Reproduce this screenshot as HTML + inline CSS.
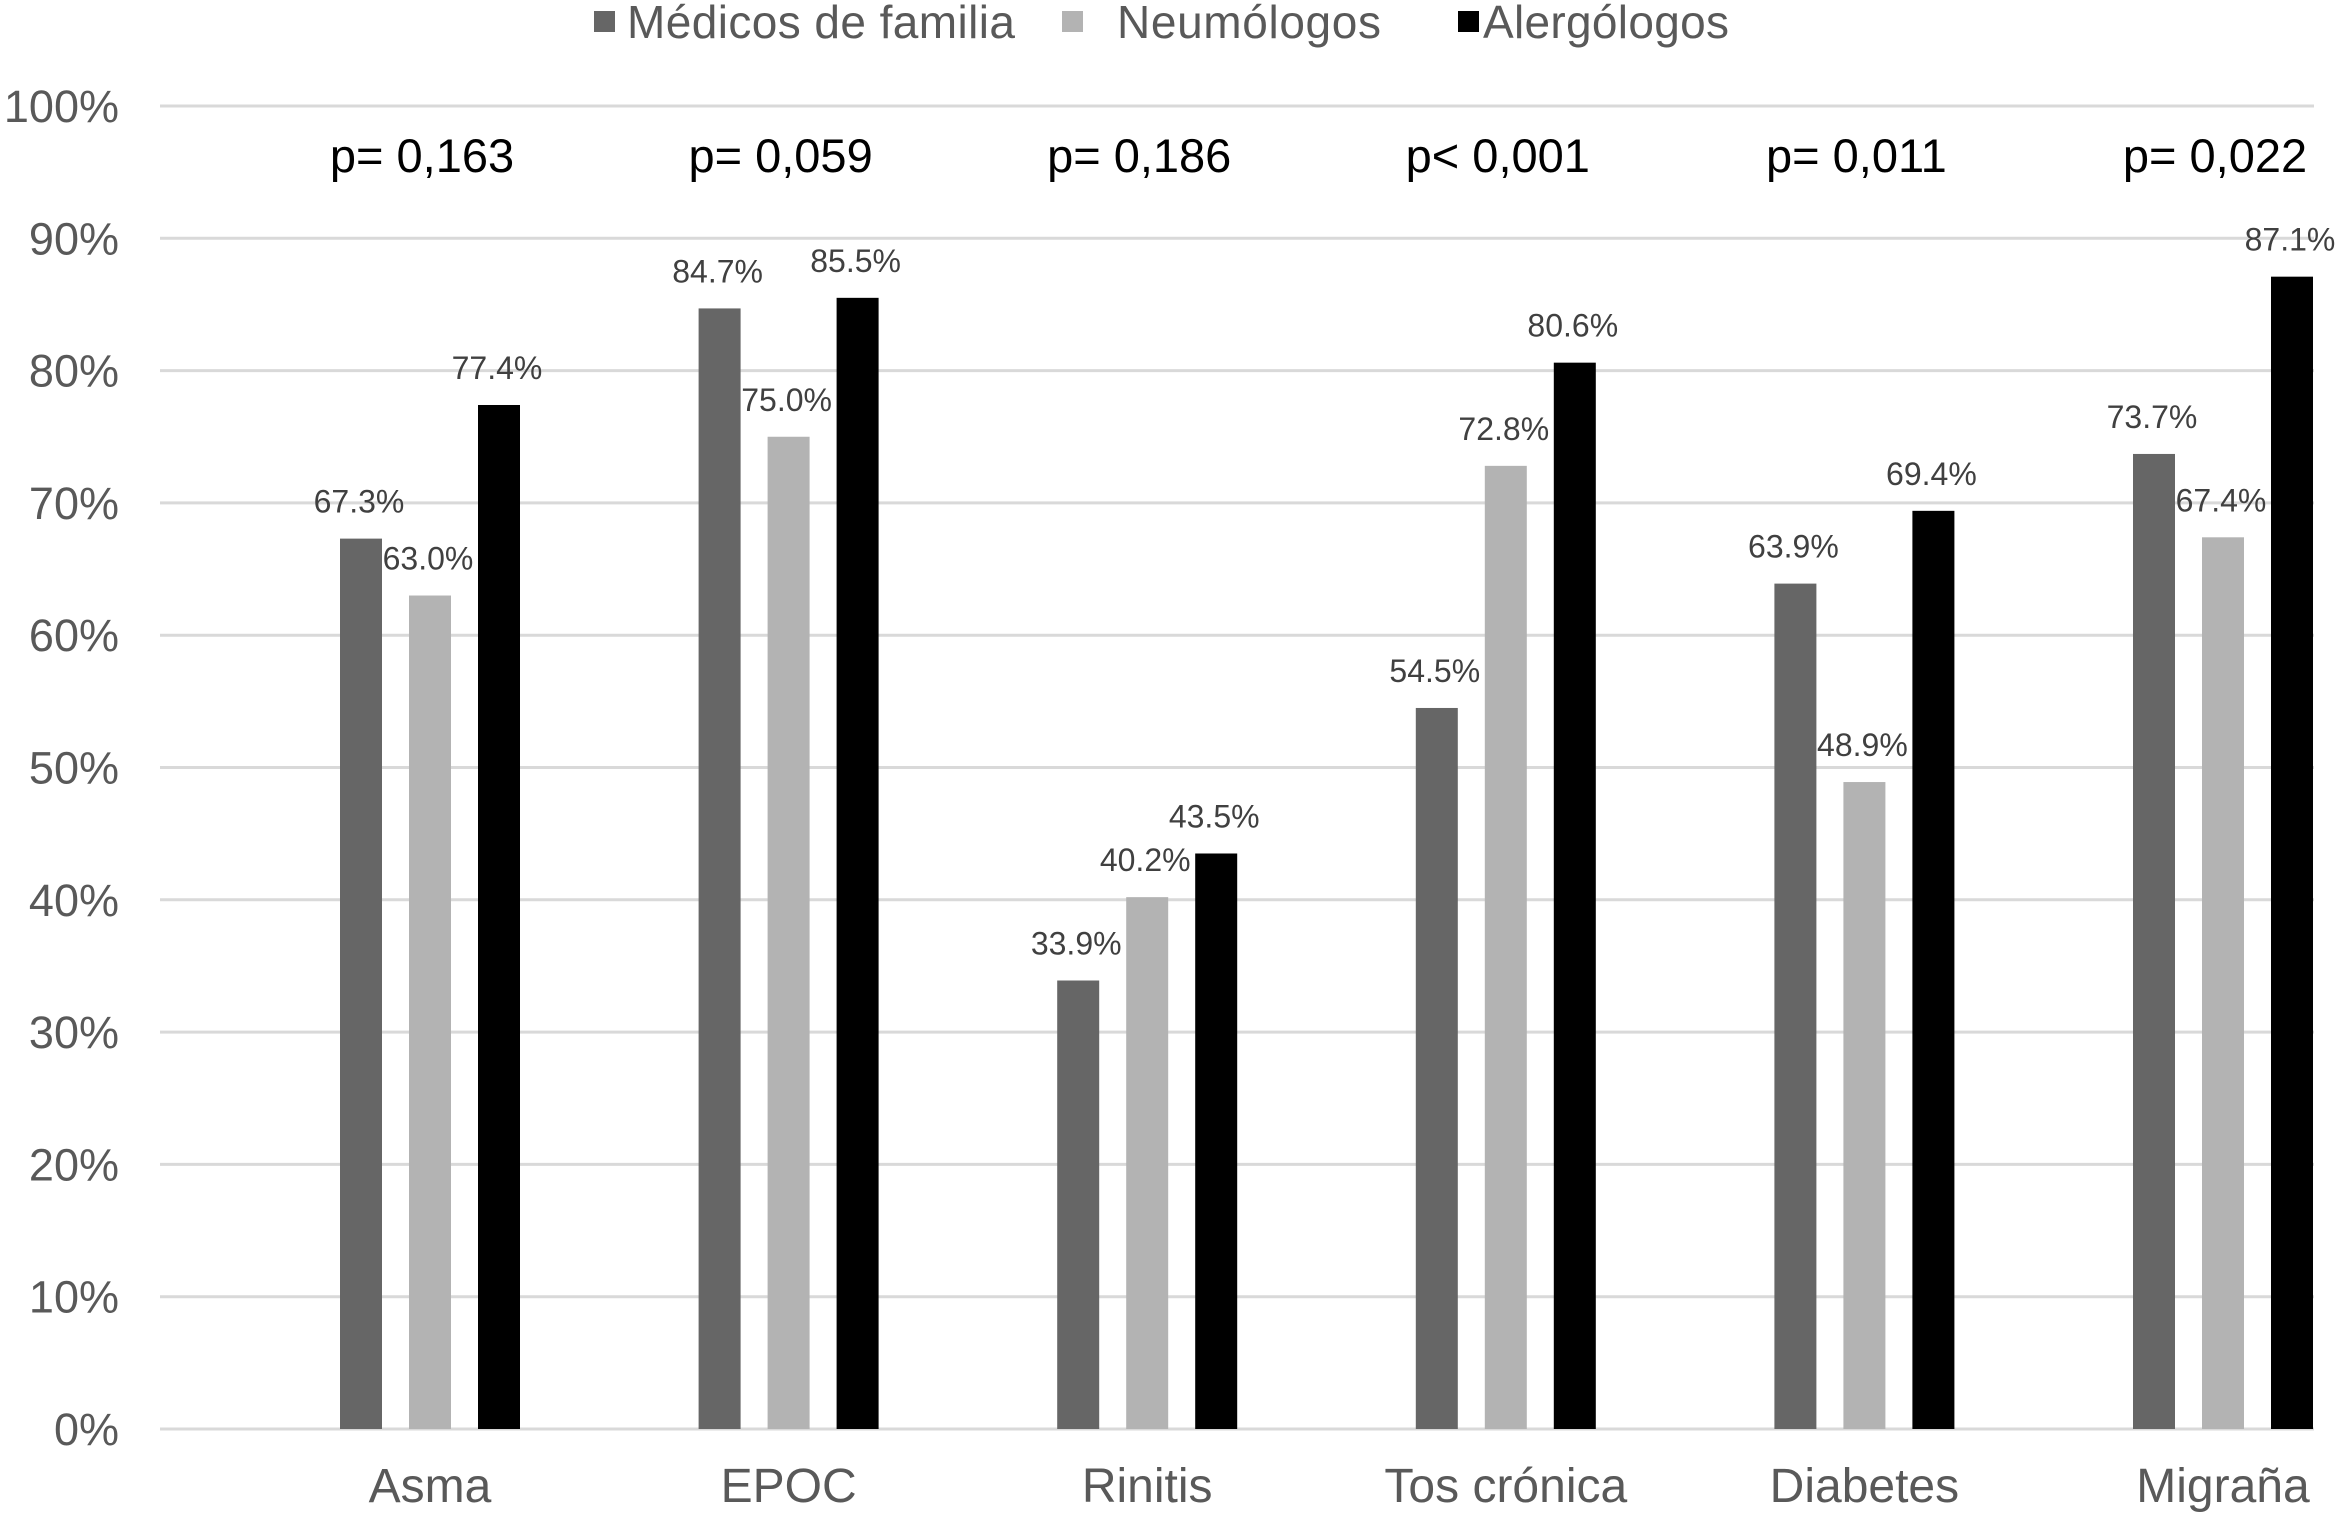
<!DOCTYPE html>
<html><head><meta charset="utf-8"><style>
html,body{margin:0;padding:0;background:#fff;}
svg{display:block;font-family:"Liberation Sans",Arial,sans-serif;}
</style></head><body>
<svg id="chart" width="2341" height="1515">
  <g id="grid"></g>
  <g id="bars"></g>
  <g id="labels"></g>
  <g>
    <rect x="594" y="11" width="21" height="21" fill="#666666"/>
    <text x="627" y="38" font-size="46" textLength="388" fill="#595959">Médicos de familia</text>
    <rect x="1062" y="11" width="21" height="21" fill="#b3b3b3"/>
    <text x="1117" y="38" font-size="46" textLength="264" fill="#595959">Neumólogos</text>
    <rect x="1458" y="11" width="21" height="21" fill="#000000"/>
    <text x="1483" y="38" font-size="46" textLength="246" fill="#595959">Alergólogos</text>
  </g>
</svg>
<script>
const categories = ["Asma","EPOC","Rinitis","Tos crónica","Diabetes","Migraña"];
const medicos = [67.3,84.7,33.9,54.5,63.9,73.7];
const neumologos = [63.0,75.0,40.2,72.8,48.9,67.4];
const alergologos = [77.4,85.5,43.5,80.6,69.4,87.1];
const pValues = ["p= 0,163","p= 0,059","p= 0,186","p< 0,001","p= 0,011","p= 0,022"];
const yTicks = [0,10,20,30,40,50,60,70,80,90,100];

const NS="http://www.w3.org/2000/svg";
const y0=1429, y100=106, xL=160, xR=2314;
function yScale(v){return y0-(y0-y100)*v/100;}
function xCenter(i){return 430+i*358.6;}
function mk(tag,attrs,parent){const e=document.createElementNS(NS,tag);for(const k in attrs)e.setAttribute(k,attrs[k]);parent.appendChild(e);return e;}
const grid=document.getElementById('grid'),bars=document.getElementById('bars'),labels=document.getElementById('labels');
yTicks.forEach(t=>{
  const y=yScale(t);
  const l=mk('line',{x1:xL,x2:xR,y1:y,y2:y,stroke:'#d9d9d9','stroke-width':3},grid);
  
  
  const tx=mk('text',{x:119,y:y+16,'font-size':45,fill:'#595959','text-anchor':'end'},grid);
  tx.textContent=t+'%';
  
  
});
const series=[{d:medicos,c:'#666666',n:'medicos',off:-69},{d:neumologos,c:'#b3b3b3',n:'neumologos',off:0},{d:alergologos,c:'#000000',n:'alergologos',off:69}];
categories.forEach((cat,i)=>{
  const cx=xCenter(i);
  series.forEach(s=>{
    const v=s.d[i],top=yScale(v),bx=cx+s.off;
    const r=mk('rect',{x:bx-21,y:top,width:42,height:y0-top,fill:s.c},bars);
    
    
    const t=mk('text',{x:bx-2,y:top-26,'font-size':32,fill:'#404040','text-anchor':'middle'},labels);
    t.textContent=v.toFixed(1)+'%';
    
    
  });
  const c=mk('text',{x:cx,y:1502,'font-size':48,fill:'#595959','text-anchor':'middle'},labels);
  c.textContent=cat;
  
  
  const p=mk('text',{x:cx-8,y:172,'font-size':47,fill:'#000','text-anchor':'middle'},labels);
  p.textContent=pValues[i];
  
  
});
</script>
</body></html>
